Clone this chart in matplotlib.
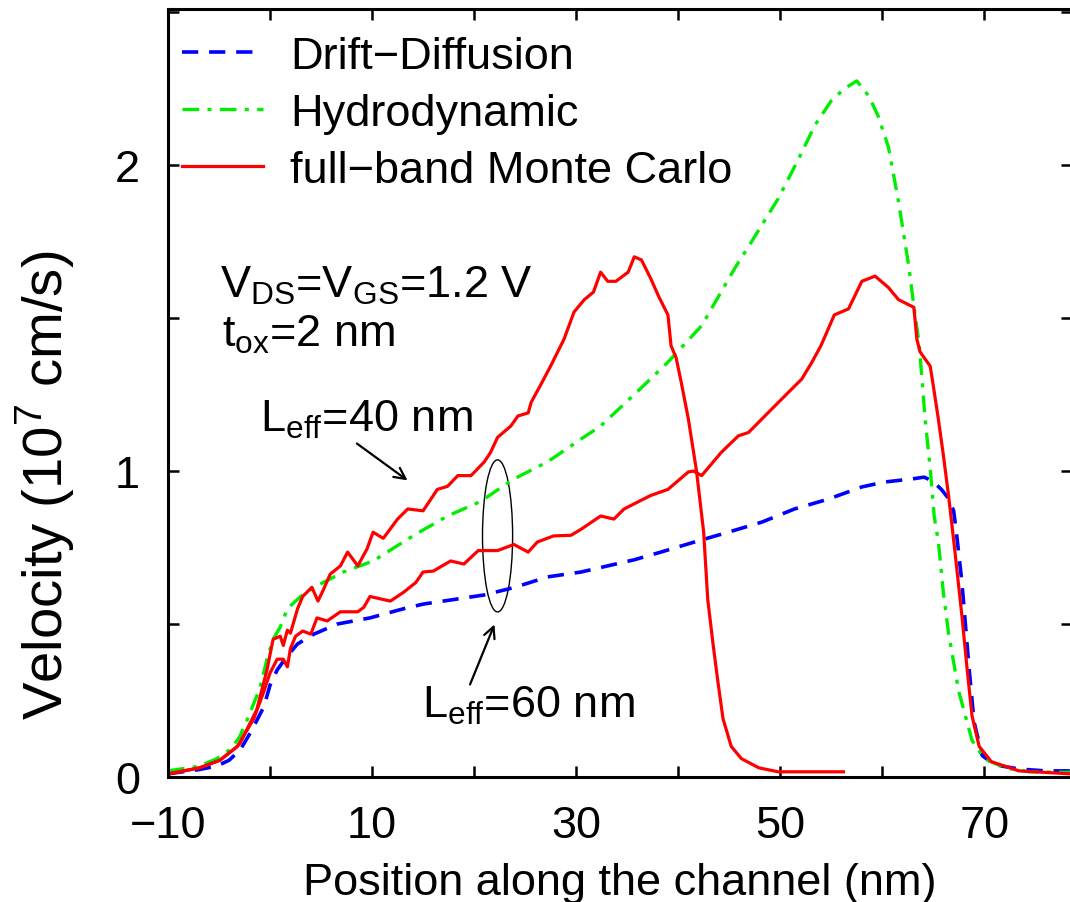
import matplotlib
matplotlib.use("Agg")
import matplotlib.pyplot as plt
from matplotlib.patches import Ellipse

plt.rcParams['font.family'] = ['Liberation Sans', 'DejaVu Sans']
plt.rcParams['mathtext.fontset'] = 'custom'
plt.rcParams['mathtext.rm'] = 'Liberation Sans'
plt.rcParams['mathtext.it'] = 'Liberation Sans'

# drift-diffusion
dd_x = [-10, -8.8, -7, -5.2, -4, -2.9, -1.9, -0.6, 0, 0.7, 1.7, 2.7, 4.3, 6.6, 9.8, 13.1, 15, 18, 21, 24,
        27.2, 30.5, 33.1, 35.7, 38.3, 41.6, 44.9, 48.2, 51.4, 54.7, 58, 60.2, 62.9, 64.1, 64.9, 65.8, 66.5,
        67, 67.3, 67.8, 68.5, 69, 69.8, 71, 73.4, 76, 78.6]
dd_y = [0.01, 0.016, 0.024, 0.036, 0.055, 0.09, 0.146, 0.23, 0.30, 0.35, 0.396, 0.435, 0.467, 0.50, 0.52,
        0.55, 0.565, 0.58, 0.595, 0.62, 0.654, 0.67, 0.69, 0.71, 0.735, 0.768, 0.80, 0.833, 0.876, 0.908,
        0.948, 0.964, 0.974, 0.98, 0.968, 0.94, 0.91, 0.87, 0.79, 0.64, 0.36, 0.18, 0.07, 0.04, 0.026,
        0.02, 0.02]

# hydrodynamic
hd_x = [-10, -7, -5.2, -3.9, -3, -2.2, -1, -0.3, 0.3, 1.0, 1.7, 3.0, 4.6, 7.2, 10.1, 14.1, 17.4, 20.6,
        23.9, 27.2, 30.5, 32.4, 35.7, 39, 42.3, 45.5, 47.2, 49.8, 51.8, 53.4, 55, 56.3, 57.5, 58.7, 59.6,
        60.6, 61.6, 62.6, 63.1, 63.6, 63.9, 64.2, 64.7, 65.1, 65.5, 66, 66.5, 67.5, 68.8, 70, 72, 74.4, 78.6]
hd_y = [0.02, 0.035, 0.06, 0.09, 0.13, 0.19, 0.29, 0.385, 0.45, 0.49, 0.55, 0.59, 0.625, 0.67, 0.706,
        0.79, 0.853, 0.90, 0.974, 1.03, 1.105, 1.147, 1.25, 1.356, 1.475, 1.66, 1.75, 1.89, 2.02, 2.13,
        2.21, 2.25, 2.275, 2.225, 2.16, 2.06, 1.88, 1.67, 1.54, 1.42, 1.30, 1.17, 1.01, 0.85, 0.77, 0.60,
        0.47, 0.28, 0.12, 0.06, 0.03, 0.017, 0.015]

# full-band Monte Carlo, Leff = 40 nm
mc40_x = [-10, -6.9, -4.9, -3.2, -2.9, -1.3, -0.3, 0.3, 1.0, 1.3, 1.7, 2.0, 2.7, 3.2, 4.1, 4.7, 5.2, 5.9,
          6.9, 7.6, 8.6, 9.5, 10.1, 11.1, 12.5, 13.5, 15.0, 16.4, 17.4, 18.4, 19.7, 21.0, 21.6, 22.3, 23.6,
          24.3, 25.3, 25.6, 26.5, 27.5, 28.8, 29.8, 30.8, 31.7, 32.4, 33.1, 33.9, 35.1, 35.7, 36.4, 37.3,
          38.1, 39.0, 39.3, 39.8, 40.3, 41.0, 41.8, 42.5, 42.9, 43.4, 43.9, 44.4, 45.2, 46.2, 47.9, 49.8, 56.2]
mc40_y = [0.01, 0.03, 0.055, 0.10, 0.113, 0.22, 0.35, 0.45, 0.46, 0.43, 0.48, 0.47, 0.55, 0.59, 0.62,
          0.575, 0.61, 0.663, 0.69, 0.735, 0.69, 0.745, 0.80, 0.78, 0.843, 0.876, 0.87, 0.94, 0.95, 0.985,
          0.985, 1.03, 1.06, 1.11, 1.147, 1.18, 1.19, 1.225, 1.28, 1.343, 1.43, 1.52, 1.56, 1.585, 1.65,
          1.62, 1.62, 1.65, 1.70, 1.69, 1.63, 1.57, 1.51, 1.41, 1.37, 1.29, 1.17, 1.0, 0.80, 0.58, 0.44,
          0.31, 0.19, 0.10, 0.06, 0.03, 0.017, 0.017]

# full-band Monte Carlo, Leff = 60 nm
mc60_x = [-10, -6.9, -4.9, -3.2, -1.6, -0.6, 0, 0.7, 1.3, 1.7, 2.0, 2.5, 3.2, 4.0, 4.6, 5.6, 6.9, 8.6,
          9.2, 9.8, 11.1, 11.8, 13.1, 14.3, 15.0, 16.0, 17.7, 19.0, 20.4, 22.3, 23.9, 25.3, 26.2, 27.8,
          29.5, 30.5, 32.4, 33.7, 34.7, 37.3, 39.0, 41.0, 41.5, 42.3, 44.2, 45.9, 46.9, 48.8, 50.8, 52.1,
          53.1, 54.0, 55.3, 56.7, 58.0, 59.3, 60.6, 61.6, 63.1, 63.4, 63.7, 64.2, 64.7, 65.0, 65.5, 66.0,
          66.5, 67.1, 67.8, 68.3, 68.8, 69.5, 70.7, 73.4, 78.6]
mc60_y = [0.01, 0.03, 0.055, 0.10, 0.19, 0.28, 0.34, 0.385, 0.385, 0.36, 0.42, 0.46, 0.477, 0.467, 0.52,
          0.51, 0.54, 0.54, 0.555, 0.59, 0.58, 0.575, 0.604, 0.636, 0.67, 0.673, 0.706, 0.696, 0.74, 0.74,
          0.76, 0.735, 0.768, 0.788, 0.79, 0.81, 0.853, 0.843, 0.876, 0.92, 0.94, 0.997, 1.0, 0.985, 1.06,
          1.115, 1.126, 1.19, 1.257, 1.30, 1.355, 1.41, 1.51, 1.53, 1.62, 1.637, 1.60, 1.56, 1.535, 1.43,
          1.39, 1.366, 1.343, 1.28, 1.17, 1.05, 0.92, 0.745, 0.53, 0.36, 0.20, 0.10, 0.05, 0.02, 0.01]

xticks = [-10, 0, 10, 20, 30, 40, 50, 60, 70]
xticklabels = ['\u221210', '', '10', '', '30', '', '50', '', '70']
yticks = [0, 0.5, 1, 1.5, 2, 2.5]
yticklabels = ['0', '', '1', '', '2', '']

fs = 32.5
fig = plt.figure(figsize=(10.7, 9.03), dpi=100)
ax = fig.add_axes([168 / 1070, 125 / 903, (1072 - 168) / 1070, 768 / 903])

ax.plot(dd_x, dd_y, color='#0000ff', lw=2.6, dashes=[4.5, 3], label='Drift\u2212Diffusion')
ax.plot(hd_x, hd_y, color='#00ee00', lw=2.4, dashes=[5, 2.5, 1.2, 2.5], label='Hydrodynamic')
ax.plot(mc40_x, mc40_y, color='#ff0000', lw=2.3, label='full\u2212band Monte Carlo')
ax.plot(mc60_x, mc60_y, color='#ff0000', lw=2.3)

ax.set_xlim(-10, 78.6)
ax.set_ylim(0, 2.51)
ax.set_xticks(xticks)
ax.set_xticklabels(xticklabels)
ax.set_yticks(yticks)
ax.set_yticklabels(yticklabels)
ax.tick_params(direction='in', length=8, width=1.8, labelsize=fs, pad=20,
               top=True, right=True)
for sp in ax.spines.values():
    sp.set_linewidth(2.2)

ax.set_xlabel('Position along the channel (nm)', fontsize=fs, labelpad=12)
fig.text(45 / 1070, 1 - 485 / 903, 'Velocity (10$^{7}$ cm/s)', fontsize=40.5,
         rotation=90, ha='center', va='center')

leg = ax.legend(loc='upper left', bbox_to_anchor=(-0.0144, 1.0), frameon=False, fontsize=fs,
                handlelength=1.8, handletextpad=0.6, labelspacing=0.35, borderpad=0.2,
                borderaxespad=0.4)

ax.text(-4.9, 1.569, 'V$_{DS}$=V$_{GS}$=1.2 V', fontsize=fs, va='baseline')
ax.text(-4.7, 1.408, 't$_{ox}$=2 nm', fontsize=fs, va='baseline')
ax.text(-1.0, 1.131, 'L$_{eff}$=40 nm', fontsize=fs, va='baseline')
ax.text(14.9, 0.196, 'L$_{eff}$=60 nm', fontsize=fs, va='baseline')

ax.annotate('', xy=(13.7, 0.964), xytext=(8.3, 1.095),
            arrowprops=dict(arrowstyle='->', color='black', lw=1.6, mutation_scale=20))
ax.annotate('', xy=(22.1, 0.507), xytext=(19.5, 0.294),
            arrowprops=dict(arrowstyle='->', color='black', lw=1.6, mutation_scale=20))
ax.add_patch(Ellipse((22.3, 0.788), 2.95, 0.497, fill=False, color='black', lw=1.0))

fig.savefig('out.png', dpi=100)
